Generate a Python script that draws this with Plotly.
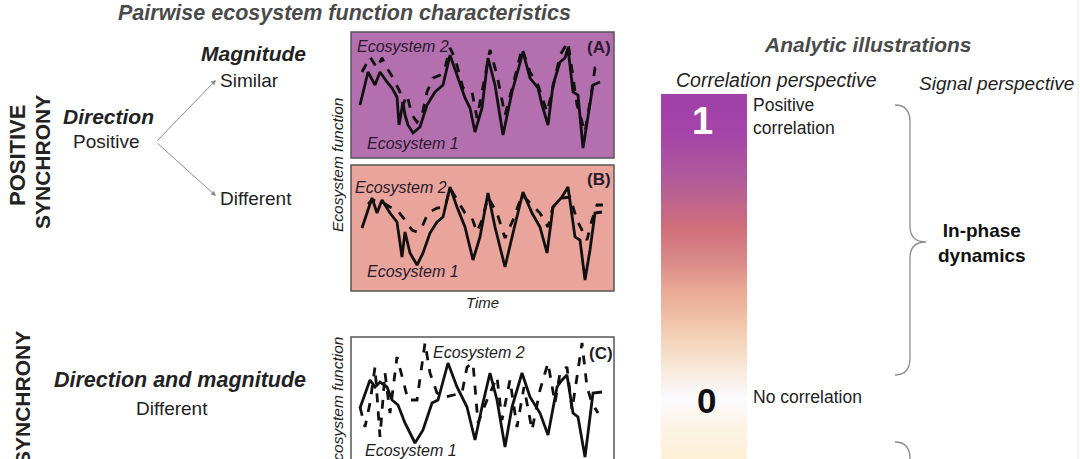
import plotly.graph_objects as go

W, H = 1080, 459

# panel (A): similar magnitude, positive direction
a_t1 = [4, 8, 11.5, 14, 17.5, 20, 22.5, 23.5, 25.5, 26.5, 28, 30.5, 34, 37.5, 41.5, 45.5, 49, 52.5,
        56.5, 59, 61.5, 65, 68, 71.5, 75.5, 80, 85.5, 89, 93, 95, 98, 100.5, 104, 106.5, 108, 110.5,
        113, 115.5, 118, 120.5, 124]
a_eco1 = [5.2, 8.5, 7.2, 8.5, 7.5, 6.9, 6.0, 3.2, 5.5, 4.2, 3.2, 2.4, 3.0, 5.2, 6.5, 7.2, 10.2, 8.2,
          5.9, 4.9, 2.5, 4.9, 9.9, 7.2, 2.2, 6.5, 10.5, 7.9, 6.9, 5.2, 3.2, 7.2, 9.5, 9.9, 10.9, 6.5,
          6.2, 0.9, 3.9, 7.2, 7.5]
a_t2 = [5, 9, 12.5, 15, 17.5, 20.5, 24, 25.5, 27.5, 30, 32.5, 35, 37.5, 40.5, 44, 46.5, 49, 51.5,
        55.5, 60, 62.5, 65.5, 69, 72.5, 76.5, 80.5, 85, 89, 93, 97.5, 100, 104, 108, 112.5, 116.5,
        119, 121.5, 125.5]
a_eco2 = [8.5, 10.0, 8.9, 9.9, 8.9, 7.9, 6.5, 5.2, 6.2, 4.2, 3.5, 4.2, 6.5, 7.9, 8.2, 8.9, 10.9, 9.9,
          6.9, 6.5, 3.9, 7.2, 10.7, 8.2, 4.2, 7.2, 10.9, 8.5, 7.2, 4.5, 6.5, 10.2, 11.5, 5.2, 2.5,
          5.5, 8.9, 8.9]

# panel (B): different magnitude, positive direction
b_t1 = [5, 10, 12.5, 15, 19, 22.5, 25, 26.5, 29, 32.5, 35.5, 39, 42.5, 45.5, 49, 52.5, 56.5, 60.5,
        64, 68, 71.5, 76.5, 80.5, 85.5, 90, 94, 97.5, 100.5, 105, 108, 111.5, 114, 116.5, 119,
        121.5, 125]
b_eco1 = [6.2, 9.2, 7.7, 9.0, 7.7, 6.8, 3.3, 5.8, 3.7, 2.5, 3.7, 5.7, 6.8, 7.3, 10.3, 8.3, 6.3, 3.0,
          5.3, 9.7, 6.3, 2.3, 5.7, 9.8, 7.7, 6.3, 3.7, 8.3, 9.3, 10.3, 5.3, 5.0, 1.0, 4.0, 7.7, 7.8]
b_t2 = [8, 10, 15, 19, 22.5, 26.5, 30, 32.5, 35, 38, 42.5, 46.5, 49, 52.5, 56.5, 60, 62.5, 65, 68,
        72.5, 76.5, 80.5, 85, 89, 94, 98, 100.5, 105, 109, 112.5, 117.5, 120, 122.5, 125.5]
b_eco2 = [8.6, 9.0, 8.8, 8.3, 8.0, 7.0, 6.0, 5.8, 6.3, 7.7, 8.2, 8.3, 10.2, 9.0, 7.7, 7.2, 5.8, 7.0,
          9.3, 7.7, 5.2, 7.0, 9.5, 8.7, 7.7, 6.3, 8.3, 9.2, 9.3, 7.0, 5.0, 7.0, 8.5, 8.5]

# panel (C): different direction and magnitude
c_t1 = [4, 9, 11.5, 14, 17.5, 20, 23, 26.5, 31.5, 35.5, 40, 43, 48, 52.5, 57.5, 61.5, 65, 69, 72.5,
        76.5, 80, 85, 89, 94, 98, 102.5, 105, 107.5, 110.5, 113, 116.5, 119, 120.5, 125]
c_eco1 = [5.1, 7.9, 7.2, 7.7, 7.2, 5.9, 5.4, 3.6, 1.6, 2.9, 5.6, 5.9, 9.6, 7.2, 5.2, 1.9, 5.2, 8.6,
          5.9, 1.2, 5.2, 8.6, 6.2, 4.6, 2.4, 7.2, 7.9, 8.4, 4.6, 4.2, 0.2, 3.9, 6.6, 6.7]
c_t2 = [4, 6.5, 9, 11.5, 14, 16.5, 19, 22.5, 25.5, 28, 32.5, 36.5, 39, 42.5, 46.5, 50.5, 55, 57.5,
        60.5, 63, 67.5, 72.5, 75, 79, 82.5, 86, 90, 94, 98, 101.5, 104, 107.5, 110, 112.5, 115,
        117.5, 120, 123]
c_eco2 = [5.2, 3.2, 5.6, 9.2, 2.2, 8.6, 4.6, 10.2, 7.9, 5.9, 5.9, 11.6, 8.6, 6.6, 6.2, 6.4, 6.6, 9.2,
          9.6, 3.6, 5.9, 8.2, 3.9, 7.9, 3.2, 7.2, 2.9, 6.9, 9.6, 5.6, 8.6, 9.2, 4.9, 8.2, 11.6, 7.2,
          5.6, 4.6]

# correlation scale of the analytic illustration
bar_levels = [1.10, 0.96, 0.80, 0.62, 0.50, 0.40, 0.25, 0.13, 0.01, -0.10, -0.22]
bar_colors = ['#a040a8', '#a544a8', '#b05a9c', '#d06e7a', '#da8a88', '#e8a894', '#f2cbb0',
              '#f8e6d4', '#fafaff', '#fcf3e2', '#fdf0d6']


def px(x):
    return x / W


def py(y):
    return 1 - y / H


FONT = 'Liberation Sans, Arial, sans-serif'
lo, hi = min(bar_levels), max(bar_levels)
colorscale = sorted([[(v - lo) / (hi - lo), c] for v, c in zip(bar_levels, bar_colors)])

fig = go.Figure()

panels = [('', a_t1, a_eco1, a_t2, a_eco2),
          ('2', b_t1, b_eco1, b_t2, b_eco2),
          ('3', c_t1, c_eco1, c_t2, c_eco2)]
for n, t1, e1, t2, e2 in panels:
    fig.add_trace(go.Scatter(x=t1, y=e1, mode='lines', xaxis='x' + n, yaxis='y' + n,
                             line=dict(color='#111111', width=2.8), showlegend=False,
                             name='Ecosystem 1'))
    fig.add_trace(go.Scatter(x=t2, y=e2, mode='lines', xaxis='x' + n, yaxis='y' + n,
                             line=dict(color='#111111', width=2.8, dash='dash'),
                             showlegend=False, name='Ecosystem 2'))

fig.add_trace(go.Heatmap(x=[0, 1], y=bar_levels, z=[[v, v] for v in bar_levels],
                         colorscale=colorscale, zmin=lo, zmax=hi, zsmooth='best',
                         showscale=False, xaxis='x4', yaxis='y4', hoverinfo='skip'))

hidden = dict(visible=False, fixedrange=True)
xdom = [px(352), px(613)]
fig.update_layout(
    width=W, height=H, margin=dict(l=0, r=0, t=0, b=0),
    paper_bgcolor='white', plot_bgcolor='rgba(0,0,0,0)',
    font=dict(family=FONT, color='#222222'),
    xaxis=dict(domain=xdom, range=[0, 130.5], **hidden),
    yaxis=dict(domain=[py(157), py(33)], range=[0, 12.4], **hidden),
    xaxis2=dict(domain=xdom, range=[0, 130.5], **hidden),
    yaxis2=dict(domain=[py(290), py(167)], range=[0, 12.3], **hidden),
    xaxis3=dict(domain=xdom, range=[0, 130.5], **hidden),
    yaxis3=dict(domain=[0, py(338)], range=[0, 12.1], **hidden),
    xaxis4=dict(domain=[px(661), px(747)], range=[0, 1], **hidden),
    yaxis4=dict(domain=[0, py(94)], range=[-0.21, 1.096], **hidden),
)

# panel frames
frames = [(351, 32, 614, 158, '#b470ae'), (351, 165, 614, 291, '#e9a59b'),
          (351, 337, 614, 490, 'white')]
for x0, y0, x1, y1, fill in frames:
    fig.add_shape(type='rect', xref='paper', yref='paper', x0=px(x0), x1=px(x1),
                  y0=py(y1), y1=py(y0), fillcolor=fill, layer='below',
                  line=dict(color='#555555', width=1.5))


def bpath(pts):
    out = []
    for cmd, coords in pts:
        out.append(cmd + ' ' + ' '.join('%.5f,%.5f' % (px(a), py(b)) for a, b in coords))
    return ' '.join(out)


brace = bpath([('M', [(895, 105)]), ('Q', [(910, 105), (910, 122)]), ('L', [(910, 226)]),
               ('Q', [(910, 242), (926, 242)]), ('Q', [(910, 242), (910, 258)]),
               ('L', [(910, 358)]), ('Q', [(910, 375), (895, 375)])])
fig.add_shape(type='path', xref='paper', yref='paper', path=brace,
              line=dict(color='#8a8a8a', width=1.3))
brace2 = bpath([('M', [(895, 442)]), ('Q', [(910, 442), (910, 459)]), ('L', [(910, 480)])])
fig.add_shape(type='path', xref='paper', yref='paper', path=brace2,
              line=dict(color='#8a8a8a', width=1.3))
fig.add_shape(type='line', xref='paper', yref='paper', x0=px(1078), x1=px(1078), y0=0, y1=1,
              line=dict(color='#e6e6e6', width=1))


def txt(x, y, s, size, bold=False, italic=False, color='#222222', angle=0, anchor='center'):
    if bold:
        s = '<b>' + s + '</b>'
    if italic:
        s = '<i>' + s + '</i>'
    fig.add_annotation(x=px(x), y=py(y), xref='paper', yref='paper', text=s, showarrow=False,
                       font=dict(size=size, color=color, family=FONT), textangle=angle,
                       xanchor=anchor, yanchor='middle', align=anchor, borderpad=0)


# left side headings
txt(344, 13, 'Pairwise ecosystem function characteristics', 21.5, bold=True, italic=True,
    color='#4a4a4a')
txt(253, 53, 'Magnitude', 21, bold=True, italic=True)
txt(219, 80, 'Similar', 19, anchor='left')
txt(108, 117, 'Direction', 21, bold=True, italic=True)
txt(106, 142, 'Positive', 19)
txt(219, 198, 'Different', 19, anchor='left')
txt(17, 156, 'POSITIVE', 22, bold=True, angle=-90)
txt(42, 162, 'SYNCHRONY', 21, bold=True, angle=-90)
txt(22, 398, 'SYNCHRONY', 21, bold=True, angle=-90)
txt(180, 380, 'Direction and magnitude', 21.5, bold=True, italic=True)
txt(172, 408, 'Different', 19)

for ty in [80, 196]:
    fig.add_annotation(x=px(216), y=py(ty), xref='paper', yref='paper', ax=156 - 216,
                       ay=142 - ty, axref='pixel', ayref='pixel', text='', showarrow=True,
                       arrowhead=2, arrowsize=1, arrowwidth=1, arrowcolor='#8a8a8a')

# panel labels
dark = '#2a1a2e'
txt(337, 165, 'Ecosystem function', 15.5, italic=True, angle=-90)
txt(337, 404, 'Ecosystem function', 15.5, italic=True, angle=-90)
txt(482, 302, 'Time', 15, italic=True)
txt(356, 46, 'Ecosystem 2', 16, italic=True, color=dark, anchor='left')
txt(366, 143, 'Ecosystem 1', 16, italic=True, color=dark, anchor='left')
txt(612, 47, '(A)', 17, bold=True, color=dark, anchor='right')
txt(354, 188, 'Ecosystem 2', 16, italic=True, color=dark, anchor='left')
txt(366, 271, 'Ecosystem 1', 16, italic=True, color=dark, anchor='left')
txt(612, 180, '(B)', 17, bold=True, color=dark, anchor='right')
txt(432, 352, 'Ecosystem 2', 16, italic=True, color='#222222', anchor='left')
txt(364, 450, 'Ecosystem 1', 16, italic=True, color='#222222', anchor='left')
txt(614, 353, '(C)', 17, bold=True, color='#222222', anchor='right')

# right side
txt(868, 45, 'Analytic illustrations', 21, bold=True, italic=True, color='#4a4a4a')
txt(776, 80, 'Correlation perspective', 19.5, italic=True)
txt(996, 83, 'Signal perspective', 19, italic=True)
txt(702, 121, '1', 38, bold=True, color='white')
txt(706, 400, '0', 35, bold=True, color='#111111')
txt(752, 117, 'Positive<br>correlation', 17.5, anchor='left')
txt(752, 397, 'No correlation', 17.5, anchor='left')
txt(982, 243, 'In-phase<br>dynamics', 19, bold=True, color='#111111')

# drop the page's default body margin so the figure sits at the window's corner
fig.write_html("out.html", config={'displayModeBar': False},
               post_script="document.body.style.margin='0px';")
